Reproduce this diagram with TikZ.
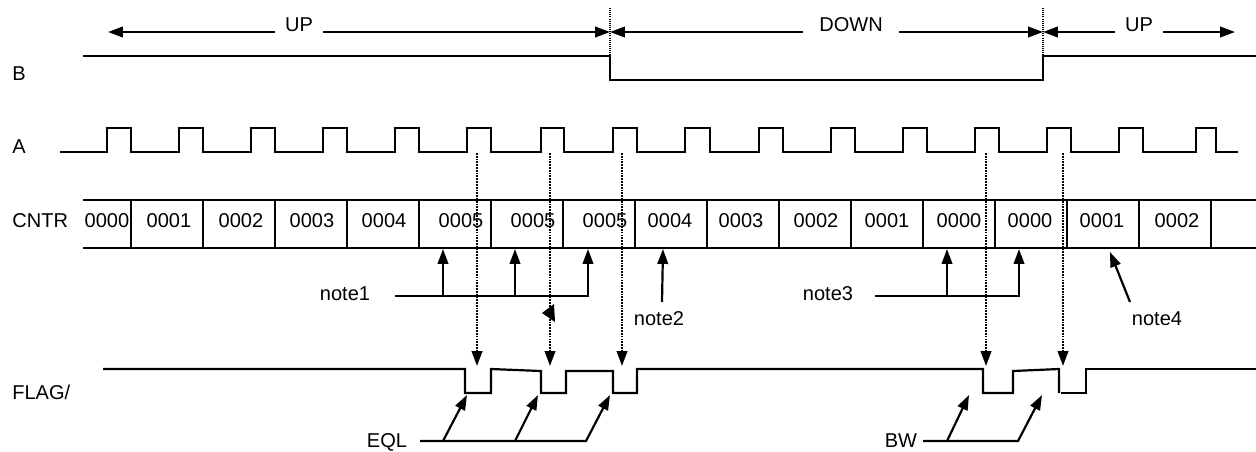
\documentclass[tikz,border=0pt]{standalone}
\usepackage{fontspec}
\setmainfont{Liberation Sans}
\usetikzlibrary{arrows.meta}

\begin{document}
\begin{tikzpicture}[
  x=0.02cm,y=-0.02cm,
  font=\fontsize{11.4}{13}\selectfont,
  wave/.style={line width=1.25pt},
  sig/.style={anchor=base west,inner sep=0pt},
  val/.style={anchor=base,inner sep=0pt},
  phase/.style={anchor=base,inner sep=0pt},
  note/.style={anchor=base,inner sep=0pt},
  arr/.style={-{Triangle[length=8.5pt,width=6pt]},line width=1.25pt},
  probe/.style={-{Triangle[length=8.5pt,width=6pt]},line width=1.2pt,
                dash pattern=on 1pt off 0.6pt},
  edgemark/.style={line width=0.6pt,dash pattern=on 0.6pt off 0.6pt}
]
\useasboundingbox (0,0) rectangle (1256,451);

% signal names
\node[sig] (lb) at (12,80) {B};
\node[sig] (la) at (12,153) {A};
\node[sig] (lc) at (12,227) {CNTR};
\node[sig] (lf) at (12,399.5) {FLAG/};

% count direction
\coordinate (s0) at (108,32);
\coordinate (t1) at (610,32);
\coordinate (t2) at (1043,32);
\coordinate (s3) at (1235,32);
\node[phase,minimum width=0.96cm] (up1) at (299,31.5) {UP};
\node[phase,minimum width=1.92cm] (dn) at (851,31.5) {DOWN};
\node[phase,minimum width=0.96cm] (up2) at (1139,31.5) {UP};
\draw[arr] (up1.west |- t1) -- (s0);
\draw[arr] (up1.east |- t1) -- (t1);
\draw[arr] (dn.west |- t1) -- (t1);
\draw[arr] (dn.east |- t1) -- (t2);
\draw[arr] (up2.west |- t1) -- (t2);
\draw[arr] (up2.east |- t1) -- (s3);
\draw[edgemark] (610,8) -- (610,56);
\draw[edgemark] (1043,8) -- (1043,56);

% B
\draw[wave] (83,56) -- (610,56) -- (610,80) -- (1043,80) -- (1043,56) -- (1256,56);

% A
\draw[wave] (60,152) foreach \r/\f in {107/131,179/203,251/275,323/347,395/419,
    467/491,541/564,613/637,685/710,759/783,831/855,903/927,975/999,
    1047/1071,1119/1143,1196/1216}
  { -- (\r,152) -- (\r,128) -- (\f,128) -- (\f,152) } -- (1238,152);

% CNTR
\draw[wave] (83,200) -- (1256,200);
\draw[wave] (83,248) -- (1256,248);
\foreach \x in {131,203,...,1211}
  \draw[wave] (\x,200) -- (\x,248);
\foreach \x/\v [count=\i] in {107/0000,169/0001,241/0002,312/0003,384/0004,
    461/0005,533/0005,605/0005,670/0004,741/0003,816/0002,887/0001,
    959/0000,1030/0000,1102/0001,1177/0002}
  \node[val] (v\i) at (\x,227) {\v};

% FLAG/
\draw[wave] (103,369) -- (465,369) -- (465,393) -- (491,393) -- (491,369)
  -- (541,371) -- (541,393) -- (566,393) -- (566,371) -- (613,371)
  -- (613,393) -- (637,393) -- (637,369) -- (983,369) -- (983,393)
  -- (1013,393) -- (1013,371) -- (1059,369) -- (1059,393);
\draw[wave] (1061,393) -- (1086,393) -- (1086,369) -- (1256,369);

% A edges sampled into FLAG/
\foreach \x in {477,550,622,986,1063}
  \draw[probe] (\x,153) -- (\x,366);
\fill (542,313) -- (554,304) -- (555,322) -- cycle;

% notes
\coordinate (p1) at (443,249);
\coordinate (p2) at (515,249);
\coordinate (p3) at (588,249);
\coordinate (p4) at (663,249);
\coordinate (p5) at (947,249);
\coordinate (p6) at (1019,249);
\coordinate (p7) at (1110,252);

\node[note] (n1) at (345,300) {note1};
\coordinate (n1s) at (395,296);
\draw[arr] (n1s) -| (p3);
\draw[arr] (p1 |- n1s) -- (p1);
\draw[arr] (p2 |- n1s) -- (p2);

\node[note] (n2) at (659,325) {note2};
\coordinate (n2a) at (662,302);
\draw[arr] (n2a) -- (p4);

\node[note] (n3) at (828,300) {note3};
\coordinate (n3s) at (875,296);
\draw[arr] (n3s) -| (p6);
\draw[arr] (p5 |- n3s) -- (p5);

\node[note] (n4) at (1157,325) {note4};
\coordinate (n4a) at (1130,302);
\draw[arr] (n4a) -- (p7);

% EQL / BW
\coordinate (e1) at (467,395);
\coordinate (e2) at (538,395);
\coordinate (e3) at (610,395);
\coordinate (w1) at (969,395);
\coordinate (w2) at (1042,395);

\node[note] (eql) at (387,447) {EQL};
\coordinate (eqs) at (420,441);
\coordinate (eqk) at (586,441);
\coordinate (eb1) at (443,441);
\coordinate (eb2) at (515,441);
\draw[arr] (eqs) -- (eqk) -- (e3);
\draw[arr] (eb1) -- (e1);
\draw[arr] (eb2) -- (e2);

\node[note] (bw) at (901,447) {BW};
\coordinate (bws) at (923,441);
\coordinate (bwk) at (1018,441);
\coordinate (wb1) at (947,441);
\draw[arr] (bws) -- (bwk) -- (w2);
\draw[arr] (wb1) -- (w1);
\end{tikzpicture}
\end{document}
